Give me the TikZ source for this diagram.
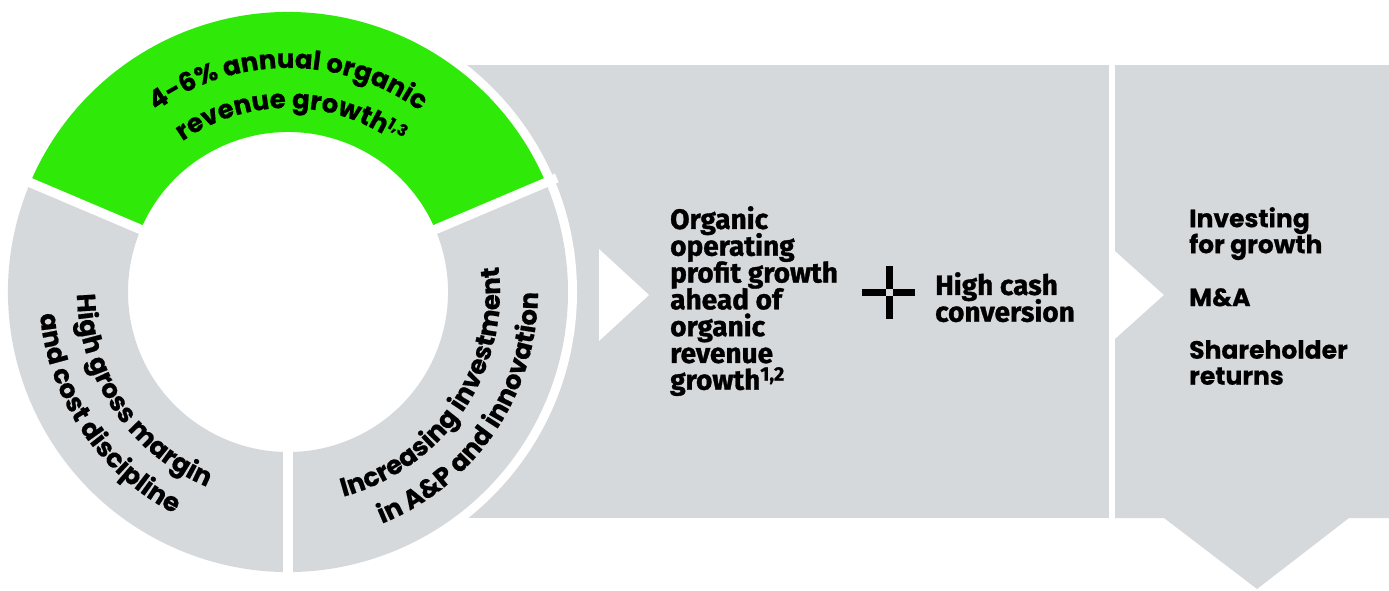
\documentclass[tikz,border=0pt]{standalone}
\usepackage{fontspec}
\usetikzlibrary{decorations.text}
\newfontfamily\popf{Poppins}[BoldFeatures={FakeBold=0.6}]
\newfontfamily\firaf{Fira Sans}[BoldFeatures={FakeBold=1.2}]
\definecolor{panelgray}{RGB}{214,217,220}
\definecolor{ringgreen}{RGB}{47,233,8}
\newcommand\ringfont{\popf\bfseries\fontsize{26}{26}\selectfont}
\tikzset{
  midtext/.style={font={\firaf\bfseries\fontsize{28}{26.8}\selectfont\lineskiplimit=-20pt}, align=left, inner sep=0pt, anchor=north west, text=black},
  righttext/.style={font={\popf\bfseries\fontsize{25}{26}\selectfont\lineskiplimit=-20pt}, align=left, inner sep=0pt, anchor=north west, text=black},
  supnode/.style={font=\popf\bfseries\fontsize{16}{16}\selectfont, inner sep=0pt, anchor=base west, text=black},
  divider/.style={white, line width=9.5pt},
  ringtext/.style={decorate, decoration={text along path, text align=center, text={#1}}},
  ringtextright/.style={decorate, decoration={text along path, text align=right, text={#1}}}
}
\begin{document}
\begin{tikzpicture}[x=1pt,y=1pt]
\useasboundingbox (0,0) rectangle (1389,-590);
% panels
\fill[panelgray] (400,-65) rectangle (1109,-518);
\fill[white] (599,-249) -- (649,-295) -- (599,-341) -- cycle;
\fill[panelgray] (1115,-65) -- (1389,-65) -- (1389,-518) -- (1349,-518) -- (1257,-589)
  -- (1164,-518) -- (1115,-518) -- (1115,-339) -- (1164,-295) -- (1115,-251) -- cycle;
% ring
\begin{scope}[shift={(288,-292)}]
  \fill[white] (0,0) circle[radius=289];
  \fill[ringgreen] (23:280) arc[start angle=23,end angle=157,radius=280]
    -- (157:160) arc[start angle=157,end angle=23,radius=160] -- cycle;
  \fill[panelgray] (157:280) arc[start angle=157,end angle=383,radius=280]
    -- (383:160) arc[start angle=383,end angle=157,radius=160] -- cycle;
  \foreach \a in {23,157,270} \draw[divider] (\a:150) -- (\a:292);
  % ring texts
  \path[ringtext={|\ringfont|4-6{\%} annual organic}]
    (170:224) arc[start angle=170,end angle=10,radius=224];
  \path[ringtextright={|\ringfont|revenue growth}]
    (170:184) arc[start angle=170,end angle=59,radius=184];
  \node[supnode, rotate=-31] (sup13) at (59.3:192) {1,3};
  \path[ringtext={|\ringfont|High gross margin}]
    (144:211) arc[start angle=144,end angle=284,radius=211];
  \path[ringtext={|\ringfont|and cost discipline}]
    (144:249) arc[start angle=144,end angle=284,radius=249];
  \path[ringtext={|\ringfont|Increasing investment}]
    (256:212) arc[start angle=256,end angle=396,radius=212];
  \path[ringtext={|\ringfont|in A{\&}P and innovation}]
    (256:250) arc[start angle=256,end angle=396,radius=250];
\end{scope}
% middle texts
\node[midtext] (mid) at (670,-206) {Organic\\operating\\profit growth\\ahead of\\organic\\revenue\\growth\textsuperscript{1,2}};
\fill[black] (885.5,-266) rectangle (892.5,-319);
\fill[black] (862,-288.5) rectangle (915,-295.5);
\fill[panelgray] (885.5,-288.5) rectangle (892.5,-295.5);
\node[midtext] (cash) at (935,-272) {High cash\\conversion};
% right texts
\node[righttext] (r1) at (1189,-207) {Investing\\for growth};
\node[righttext] (r2) at (1189,-288) {M\&A};
\node[righttext] (r3) at (1189,-340) {Shareholder\\returns};
\end{tikzpicture}
\end{document}
